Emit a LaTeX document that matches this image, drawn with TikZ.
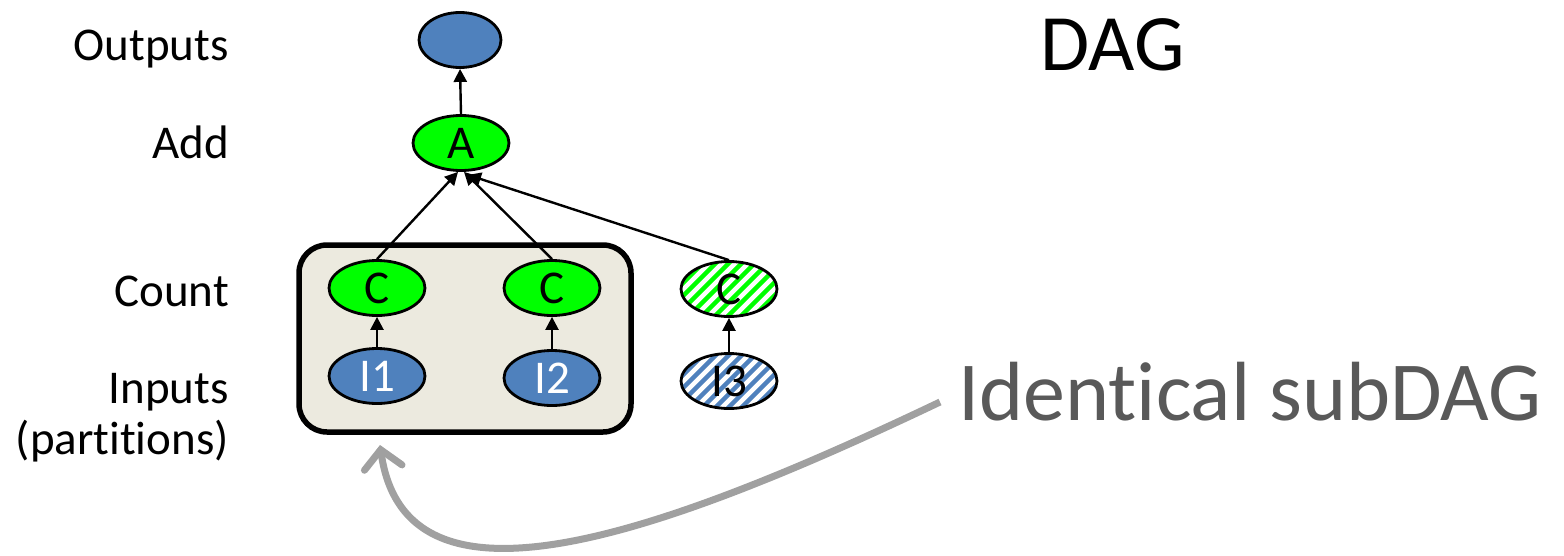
\documentclass[tikz,border=0pt]{standalone}
\usepackage{fontspec}
\setmainfont{Carlito}[RawFeature=-liga]
\usetikzlibrary{arrows.meta,shapes.geometric}
\definecolor{nodeblue}{HTML}{4F81BD}
\definecolor{nodegreen}{HTML}{00FF00}
\definecolor{boxfill}{HTML}{ECEADF}
\definecolor{notegrey}{HTML}{595959}
\definecolor{arrowgrey}{HTML}{A0A0A0}
\begin{document}
\begin{tikzpicture}[x=1pt,y=-1pt,
  every node/.style={font=\fontsize{47}{52}\selectfont},
  vert/.style={ellipse, draw=black, line width=2.8pt, inner sep=0pt,
    minimum width=96pt, minimum height=55pt},
  bluevert/.style={vert, fill=nodeblue, text=white},
  greenvert/.style={vert, fill=nodegreen},
  hatched/.style={vert, fill=white, path picture={
      \foreach \k in {-9,...,9}
        \draw[#1, line width=4.5pt]
          ([xshift=\k*13pt]path picture bounding box.center) ++(-45,45) -- ++(90,-90);}},
  edge/.style={line width=2.4pt, -{Triangle[length=13pt,width=13pt]}},
  rowlabel/.style={anchor=base east, inner sep=0pt}]
\useasboundingbox (0,0) rectangle (1564,555);

% partition box holding the identical subDAG
\node[draw=black, line width=5.5pt, rounded corners=28pt, fill=boxfill,
      minimum width=332pt, minimum height=187pt, inner sep=0pt] (part) at (465,338.5) {};

% vertices
\node[bluevert, minimum width=82pt] (out) at (460,40) {};
\node[greenvert] (A) at (461,143) {A};
\node[greenvert] (C1) at (377,288) {C};
\node[greenvert] (C2) at (552,288) {C};
\node[hatched=nodegreen] (C3) at (729,289) {C};
\node[bluevert] (I1) at (377,376) {I1};
\node[bluevert] (I2) at (552,378) {I2};
\node[hatched=nodeblue] (I3) at (729,381) {I3};

% edges
\draw[edge] (A.north) -- (out.south);
\draw[edge] (C1.north) -- ([xshift=-3pt]A.south);
\draw[edge] (C2.north) -- ([xshift=3pt]A.south);
\draw[edge] (C3.north) -- ([xshift=7pt,yshift=-3pt]A.south);
\draw[edge] (I1.north) -- (C1.south);
\draw[edge] (I2.north) -- (C2.south);
\draw[edge] (I3.north) -- (C3.south);

% row labels
\node[rowlabel] (lout) at (229,60) {Outputs};
\node[rowlabel] (ladd) at (229,158) {Add};
\node[rowlabel] (lcount) at (229,306) {Count};
\node[rowlabel] (linputs) at (229,403) {Inputs};
\node[rowlabel] (lpart) at (229,454) {(partitions)};

% titles
\node[anchor=base west, inner sep=0pt, font=\fontsize{80}{90}\selectfont] (title) at (1040,70) {DAG};
\node[anchor=base west, inner sep=0pt, text=notegrey, font=\fontsize{84}{94}\selectfont] (note) at (958,420) {Identical subDAG};

% pointer from the note to the partition box
\coordinate (from) at (940,402);
\coordinate (tip) at (380,445);
\draw[arrowgrey, line width=7pt,
      -{Straight Barb[length=18pt,width=38pt,line cap=round]}]
  (from) .. controls (640,545) and (405,620) .. (tip);
\end{tikzpicture}
\end{document}
